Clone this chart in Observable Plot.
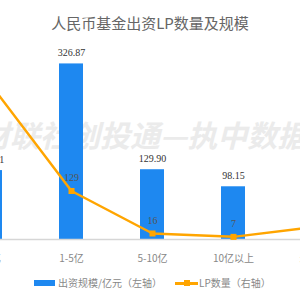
<!DOCTYPE html>
<html>
<head>
<meta charset="utf-8">
<script src="https://cdn.jsdelivr.net/npm/d3@7"></script>
<script src="https://cdn.jsdelivr.net/npm/@observablehq/plot@0.6"></script>
<style>
  html, body { margin: 0; padding: 0; width: 300px; height: 300px; overflow: hidden; background: #fff; }
  body { position: relative; font-family: "Noto Sans CJK SC", "Noto Sans", sans-serif; }
  #title { position: absolute; left: 0; top: 0; width: 300px; height: 46px; line-height: 46px; text-align: center; font-size: 15px; color: #666; }
  #wm { position: absolute; left: -20px; top: 112px; white-space: nowrap; font-size: 30px; font-weight: 700; font-style: italic; color: #ebebeb; letter-spacing: 0px; z-index: 0; }
  #chart { position: absolute; left: 0; top: 40px; z-index: 1; }
  #chart svg { background: transparent !important; overflow: hidden; }
  .leg { position: absolute; font-size: 10px; color: #888; line-height: 12px; top: 277px; white-space: nowrap; z-index: 2; }
</style>
</head>
<body>
<div id="title"></div>
<div id="wm">财联社创投通—执中数据</div>
<div id="chart"></div>
<div id="legend"></div>
<script>
const titleText = "人民币基金出资LP数量及规模";
const categories = ["<1亿", "1-5亿", "5-10亿", "10亿以上", "未披露"];
const amounts = [128.31, 326.87, 129.90, 98.15, 45.67];   // 出资规模/亿元（左轴）
const lpCounts = [413, 129, 16, 7, 33];                  // LP数量（右轴）
const seriesNames = ["出资规模/亿元（左轴）", "LP数量（右轴）"];
const leftDomain = [0, 350];
const rightDomain = [0, 500];

const BAR = "#1E88F0";
const LINE = "#FFA500";

document.getElementById("title").textContent = titleText;

const data = categories.map((c, i) => ({cat: c, amount: amounts[i], lp: lpCounts[i]}));
// map right-axis values into the left axis space (dual axis)
const r2l = d3.scaleLinear().domain(rightDomain).range(leftDomain);

const numFont = "Liberation Serif, DejaVu Serif, serif";

const chart = Plot.plot({
  width: 300,
  height: 232,
  marginTop: 11,
  marginBottom: 33,
  marginLeft: 0,
  marginRight: 0,
  style: {background: "transparent", fontFamily: "Noto Sans CJK SC, Noto Sans, sans-serif"},
  x: {type: "band", domain: categories, range: [-52.25, 355.25], paddingInner: 0.705, paddingOuter: 0.3525, label: null},
  y: {domain: leftDomain, axis: null},
  marks: [
    Plot.barY(data, {x: "cat", y: "amount", fill: BAR}),
    Plot.ruleY([0], {stroke: "#d6d6d6", strokeWidth: 1.5}),
    Plot.axisX({tickSize: 0, tickPadding: 15, fontSize: 10, fill: "#888", label: null}),
    Plot.text(data, {x: "cat", y: "amount", text: d => d.amount.toFixed(2), dy: -11, fontSize: 10, fill: "#333", fontFamily: numFont}),
    Plot.lineY(data, {x: "cat", y: d => r2l(d.lp), stroke: LINE, strokeWidth: 2.5}),
    Plot.dot(data, {x: "cat", y: d => r2l(d.lp), symbol: "square", r: 3.4, fill: LINE, stroke: "none"}),
    Plot.text(data, {x: "cat", y: d => r2l(d.lp), text: d => String(d.lp), dy: -13, fontSize: 10, fill: "#555", fontFamily: numFont})
  ]
});
document.getElementById("chart").appendChild(chart);

// legend
const legend = document.getElementById("legend");
legend.innerHTML = `
  <div style="position:absolute;left:34px;top:279.5px;width:21px;height:6.5px;background:${BAR};"></div>
  <div class="leg" style="left:58px;">${seriesNames[0]}</div>
  <div style="position:absolute;left:175px;top:282px;width:23px;height:2.5px;background:${LINE};"></div>
  <div style="position:absolute;left:183.5px;top:280px;width:6px;height:6px;background:${LINE};"></div>
  <div class="leg" style="left:199px;">${seriesNames[1]}</div>
`;
</script>
</body>
</html>
